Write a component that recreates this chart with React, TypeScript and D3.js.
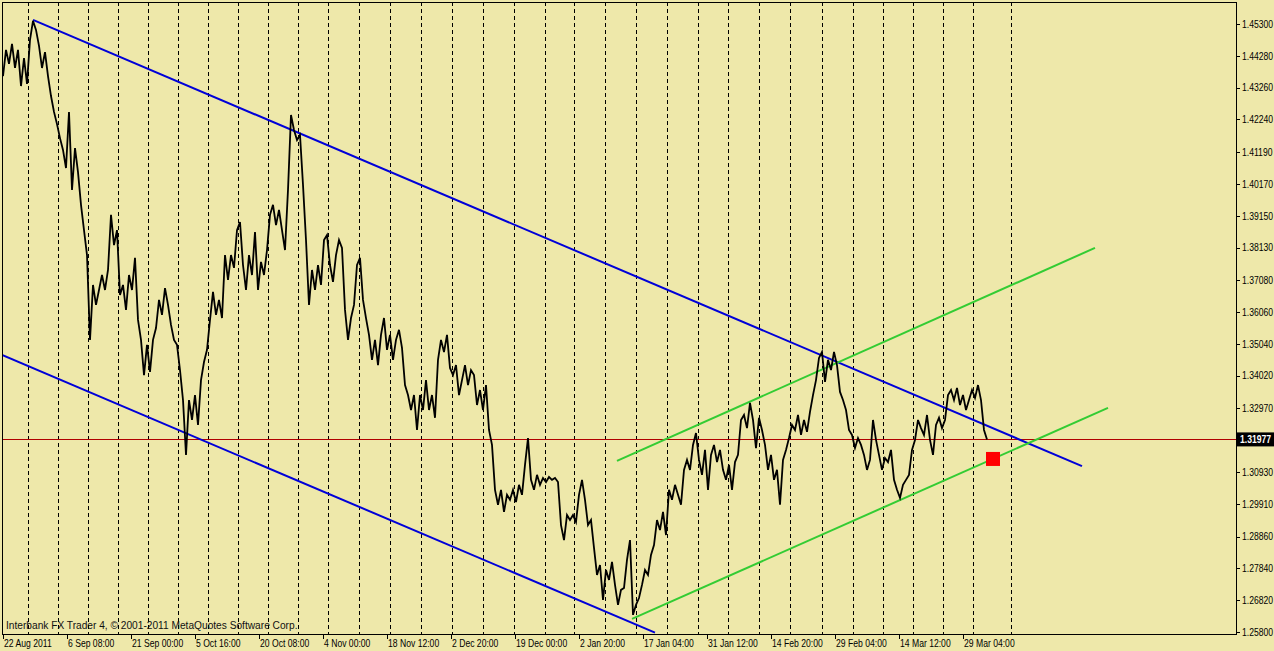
import React from 'react';
import * as d3 from 'd3';

const W = 1274;
const H = 651;

// ---- data ----
const priceTicks = [
  1.453, 1.4428, 1.4326, 1.4224, 1.4119, 1.4017, 1.3915, 1.3813, 1.3708, 1.3606,
  1.3504, 1.3402, 1.3297, 1.3093, 1.2991, 1.2886, 1.2784, 1.2682, 1.258,
];
const priceTickLabels = [
  '1.45300', '1.44280', '1.43260', '1.42240', '1.41190', '1.40170', '1.39150', '1.38130', '1.37080', '1.36060',
  '1.35040', '1.34020', '1.32970', '1.30930', '1.29910', '1.28860', '1.27840', '1.26820', '1.25800',
];
const dateLabels = [
  '22 Aug 2011', '6 Sep 08:00', '21 Sep 00:00', '5 Oct 16:00', '20 Oct 08:00', '4 Nov 00:00',
  '18 Nov 12:00', '2 Dec 20:00', '19 Dec 00:00', '2 Jan 20:00', '17 Jan 04:00', '31 Jan 12:00',
  '14 Feb 20:00', '29 Feb 04:00', '14 Mar 12:00', '29 Mar 04:00',
];
const dateLabelBars = [0, 64, 128, 192, 256, 320, 384, 448, 512, 576, 640, 704, 768, 832, 896, 960];
const weekSeparatorBars = [
  25, 55, 85, 115, 145, 175, 205, 235, 265, 295, 325, 356, 387, 418, 449, 480, 511, 542, 571,
  602, 633, 664, 695, 725, 756, 787, 819, 850, 880, 910, 940, 970, 1008,
];
const closeStep = 3; // bars between samples
const closes = [
  1.4363, 1.4447, 1.4402, 1.4466, 1.4389, 1.4447, 1.4331, 1.4421, 1.4338, 1.4479,
  1.4540, 1.4511, 1.4460, 1.4389, 1.4440, 1.4363, 1.4299, 1.4248, 1.4209, 1.4164,
  1.4126, 1.4068, 1.4248, 1.3998, 1.4132, 1.4055, 1.3950, 1.3869, 1.3789, 1.3517,
  1.3693, 1.3629, 1.3677, 1.3725, 1.3677, 1.3741, 1.3918, 1.3821, 1.3869, 1.3661,
  1.3693, 1.3613, 1.3725, 1.3677, 1.3780, 1.3581, 1.3517, 1.3404, 1.3501, 1.3414,
  1.3517, 1.3555, 1.3645, 1.3597, 1.3683, 1.3629, 1.3565, 1.3517, 1.3501, 1.3420,
  1.3324, 1.3148, 1.3324, 1.3260, 1.3340, 1.3244, 1.3388, 1.3446, 1.3485, 1.3581,
  1.3671, 1.3597, 1.3645, 1.3587, 1.3789, 1.3709, 1.3789, 1.3748, 1.3869, 1.3895,
  1.3757, 1.3677, 1.3789, 1.3725, 1.3863, 1.3677, 1.3767, 1.3725, 1.3805, 1.3918,
  1.3950, 1.3885, 1.3934, 1.3869, 1.3805, 1.3998, 1.4238, 1.4190, 1.4158, 1.4174,
  1.4014, 1.3837, 1.3629, 1.3741, 1.3677, 1.3757, 1.3693, 1.3837, 1.3853, 1.3757,
  1.3703, 1.3789, 1.3837, 1.3812, 1.3613, 1.3517, 1.3587, 1.3629, 1.3757, 1.3780,
  1.3645, 1.3587, 1.3533, 1.3453, 1.3517, 1.3436, 1.3533, 1.3587, 1.3485, 1.3533,
  1.3453, 1.3517, 1.3549, 1.3491, 1.3372, 1.3340, 1.3292, 1.3340, 1.3228, 1.3340,
  1.3292, 1.3388, 1.3292, 1.3340, 1.3267, 1.3453, 1.3517, 1.3478, 1.3533, 1.3427,
  1.3404, 1.3436, 1.3340, 1.3388, 1.3436, 1.3372, 1.3420, 1.3404, 1.3308, 1.3356,
  1.3292, 1.3372, 1.3228, 1.3180, 1.3036, 1.2988, 1.3036, 1.2965, 1.3020, 1.3004,
  1.3036, 1.2997, 1.3052, 1.3020, 1.3116, 1.3202, 1.3068, 1.3036, 1.3084, 1.3052,
  1.3074, 1.3061, 1.3077, 1.3068, 1.3074, 1.3061, 1.2923, 1.2875, 1.2955, 1.2939,
  1.2955, 1.2933, 1.3020, 1.3068, 1.3004, 1.2923, 1.2939, 1.2850, 1.2763, 1.2795,
  1.2683, 1.2779, 1.2747, 1.2805, 1.2731, 1.2667, 1.2715, 1.2721, 1.2811, 1.2875,
  1.2635, 1.2667, 1.2689, 1.2731, 1.2779, 1.2763, 1.2827, 1.2859, 1.2939, 1.2907,
  1.2965, 1.2891, 1.3036, 1.3004, 1.3052, 1.3020, 1.2988, 1.3100, 1.3132, 1.3100,
  1.3180, 1.3218, 1.3132, 1.3084, 1.3164, 1.3036, 1.3148, 1.3180, 1.3125, 1.3164,
  1.3100, 1.3068, 1.3116, 1.3036, 1.3125, 1.3148, 1.3260, 1.3276, 1.3234, 1.3315,
  1.3260, 1.3170, 1.3267, 1.3228, 1.3180, 1.3100, 1.3148, 1.3068, 1.3100, 1.2988,
  1.3132, 1.3164, 1.3202, 1.3244, 1.3228, 1.3276, 1.3212, 1.3260, 1.3222, 1.3286,
  1.3340, 1.3388, 1.3459, 1.3478, 1.3382, 1.3453, 1.3420, 1.3478, 1.3436, 1.3350,
  1.3324, 1.3292, 1.3228, 1.3212, 1.3170, 1.3202, 1.3180, 1.3148, 1.3100, 1.3132,
  1.3260, 1.3196, 1.3148, 1.3100, 1.3138, 1.3125, 1.3164, 1.3068, 1.3036, 1.3010,
  1.3052, 1.3068, 1.3084, 1.3164, 1.3196, 1.3260, 1.3234, 1.3212, 1.3276, 1.3196,
  1.3148, 1.3244, 1.3267, 1.3234, 1.3260, 1.3340, 1.3356, 1.3324, 1.3363, 1.3308,
  1.3340, 1.3292, 1.3324, 1.3356, 1.3331, 1.3372, 1.3324, 1.3228, 1.31977,
];
const lastPrice = 1.31977;
const lastPriceLabel = '1.31977';
const blueUpper: [number, number][] = [[30, 1.4543], [1079, 1.3112]];
const blueLower: [number, number][] = [[-1, 1.34685], [652, 1.2578]];
const greenUpper: [number, number][] = [[614, 1.3129], [1092, 1.3812]];
const greenLower: [number, number][] = [[629, 1.2622], [1105, 1.3299]];
const markerBar = 990;
const markerPrice = 1.3135;
const copyright = 'Interbank FX Trader 4, \u00a9 2001-2011 MetaQuotes Software Corp.';

// ---- layout ----
const plot = { left: 2, top: 2, right: 1236, bottom: 634 };
const BG = '#EEE8AA';
const FONT = "'Liberation Sans', Arial, sans-serif";
const SX = 0.82; // horizontal condensing of the terminal font

function NText({ x, y, children, size = 10.5, weight = 'normal', fill = '#000', dy = '0', sx = SX }: any) {
  return (
    <text
      transform={`translate(${x},${y}) scale(${sx},1)`}
      dy={dy}
      fontSize={size}
      fontWeight={weight}
      fill={fill}
      fontFamily={FONT}
    >
      {children}
    </text>
  );
}

export default function App() {
  const x = d3.scaleLinear().domain([0, 1233]).range([3, 1236]);
  const y = d3.scaleLinear().domain([1.258, 1.453]).range([632, 24]);

  const priceLine = d3
    .line<number>()
    .x((_, i) => x(i * closeStep))
    .y((d) => y(d))
    .curve(d3.curveLinear);

  const seg = (pts: [number, number][]) =>
    d3.line<[number, number]>().x((d) => x(d[0])).y((d) => y(d[1]))(pts) || '';

  const yLast = y(lastPrice);

  return (
    <svg width={W} height={H} style={{ position: 'fixed', left: 0, top: 0, display: 'block' }}>
      <defs>
        <clipPath id="plotClip">
          <rect x={plot.left} y={plot.top} width={plot.right - plot.left} height={plot.bottom - plot.top} />
        </clipPath>
      </defs>
      <rect x={0} y={0} width={W} height={H} fill={BG} />

      {/* week separators */}
      <g clipPath="url(#plotClip)">
        {weekSeparatorBars.map((b) => (
          <line
            key={b}
            x1={Math.round(x(b)) + 0.5}
            x2={Math.round(x(b)) + 0.5}
            y1={plot.top}
            y2={plot.bottom}
            stroke="#000"
            strokeWidth={1}
            strokeDasharray="4,3"
          />
        ))}
      </g>

      <NText x={6} y={629} size={11.5} fill="#111" sx={0.885}>
        {copyright}
      </NText>

      <g clipPath="url(#plotClip)">
        {/* bid line */}
        <line x1={plot.left} x2={plot.right} y1={Math.round(yLast) + 0.5} y2={Math.round(yLast) + 0.5} stroke="#b00000" strokeWidth={1} />
        {/* trend lines */}
        <path d={seg(blueLower)} stroke="#0000d8" strokeWidth={2} fill="none" />
        <path d={seg(blueUpper)} stroke="#0000d8" strokeWidth={2} fill="none" />
        <path d={seg(greenUpper)} stroke="#33cc33" strokeWidth={2} fill="none" />
        <path d={seg(greenLower)} stroke="#33cc33" strokeWidth={2} fill="none" />
        {/* price */}
        <path d={priceLine(closes) || ''} stroke="#000" strokeWidth={1.8} fill="none" strokeLinejoin="miter" />
        {/* marker */}
        <rect x={x(markerBar) - 7} y={y(markerPrice) - 7} width={14} height={14} fill="#ff0000" />
      </g>

      {/* frame */}
      <rect
        x={plot.left + 0.5}
        y={plot.top + 0.5}
        width={plot.right - plot.left}
        height={plot.bottom - plot.top}
        fill="none"
        stroke="#000"
        strokeWidth={1}
      />

      {/* right axis */}
      {priceTicks.map((p, i) => (
        <g key={i}>
          <line x1={plot.right} x2={plot.right + 4} y1={Math.round(y(p)) + 0.5} y2={Math.round(y(p)) + 0.5} stroke="#000" />
          <NText x={plot.right + 6} y={y(p)} dy="0.36em">
            {priceTickLabels[i]}
          </NText>
        </g>
      ))}
      <rect x={plot.right + 1} y={yLast - 7} width={W - plot.right - 1} height={14} fill="#000" />
      <NText x={plot.right + 4} y={yLast} dy="0.36em" weight="bold" fill="#fff">
        {lastPriceLabel}
      </NText>

      {/* bottom axis */}
      {dateLabelBars.map((b, i) => (
        <g key={b}>
          <line x1={Math.round(x(b)) + 0.5} x2={Math.round(x(b)) + 0.5} y1={plot.bottom} y2={plot.bottom + 5} stroke="#000" />
          <NText x={x(b) + 1} y={647}>
            {dateLabels[i]}
          </NText>
        </g>
      ))}
    </svg>
  );
}
